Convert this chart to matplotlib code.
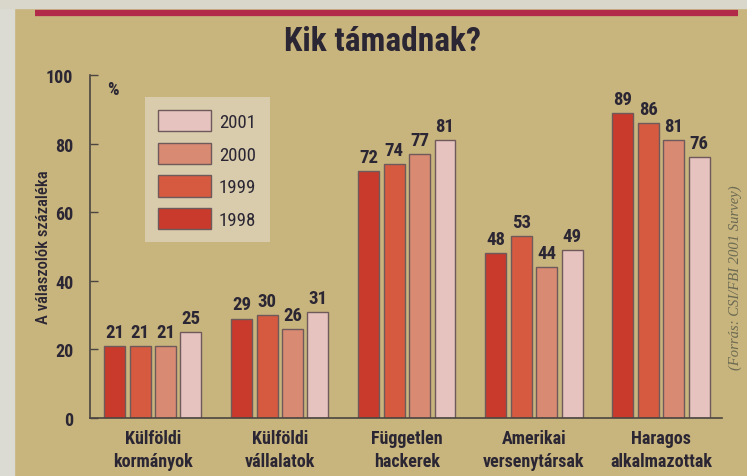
import matplotlib
matplotlib.use("Agg")
import matplotlib.pyplot as plt
from matplotlib.patches import Rectangle
from matplotlib.lines import Line2D
from matplotlib import font_manager
import numpy as np

categories = ["Külföldi\nkormányok", "Külföldi\nvállalatok", "Független\nhackerek",
              "Amerikai\nversenytársak", "Haragos\nalkalmazottak"]
years = ["1998", "1999", "2000", "2001"]
values = {
    "1998": [21, 29, 72, 48, 89],
    "1999": [21, 30, 74, 53, 86],
    "2000": [21, 26, 77, 44, 81],
    "2001": [25, 31, 81, 49, 76],
}
colors = {"1998": "#c93a2c", "1999": "#d65a3f", "2000": "#d98a72", "2001": "#e6c3bf"}
yticks = [0, 20, 40, 60, 80, 100]

names = {f.name for f in font_manager.fontManager.ttflist}
NARROW = "DejaVu Sans"
for cand in ["Roboto Condensed", "Archivo Narrow", "PT Sans Narrow", "Fira Sans Condensed",
             "Fira Sans Extra Condensed", "Barlow Condensed", "Open Sans Condensed",
             "IBM Plex Sans Condensed", "Encode Sans Condensed", "Liberation Sans Narrow",
             "Pathway Gothic One", "Oswald"]:
    if cand in names:
        NARROW = cand
        break

W, H = 747, 477
BG = "#c8b47d"
TXT = "#2b2633"
fp = dict(family=NARROW, weight="bold")

fig = plt.figure(figsize=(W / 100, H / 100), dpi=100, facecolor=BG)

# photo borders
fig.add_artist(Rectangle((0, 0), 14 / W, 1, transform=fig.transFigure, color="#dcdbd3", zorder=0))
fig.add_artist(Rectangle((0, 1 - 9 / H), 1, 9 / H, transform=fig.transFigure, color="#d9d6cc", zorder=0))
fig.add_artist(Line2D([35 / W, 738 / W], [1 - 14 / H, 1 - 14 / H], transform=fig.transFigure,
                      color="#b12a4a", lw=4.5, solid_capstyle="butt"))

fig.text(382 / W, 1 - 42 / H, "Kik támadnak?", ha="center", va="center", fontsize=24,
         color=TXT, **fp)

ax = fig.add_axes([90 / W, (H - 419) / H, (722 - 90) / W, (419 - 76) / H])
ax.set_facecolor("none")

pitch = 0.2
bw = 0.165
x = np.arange(len(categories))
handles = {}
for i, yr in enumerate(years):
    xs = x + (i - 1.5) * pitch
    bars = ax.bar(xs, values[yr], width=bw, color=colors[yr], edgecolor="#6e5a5a",
                  linewidth=1.0, zorder=2)
    handles[yr] = bars
    for xi, v in zip(xs, values[yr]):
        ax.text(xi, v + 1.5, str(v), ha="center", va="bottom", fontsize=13.5, color=TXT, **fp)

ax.set_xlim(-0.494, 4.48)
ax.set_ylim(0, 100)
ax.set_yticks(yticks)
ax.set_yticklabels([str(t) for t in yticks])
for s in ["top", "right"]:
    ax.spines[s].set_visible(False)
for s in ["left", "bottom"]:
    ax.spines[s].set_color("#4a4540")
    ax.spines[s].set_linewidth(1.2)
ax.tick_params(axis="y", direction="in", length=6, width=1, color="#4a4540", pad=12,
               labelsize=13, labelcolor=TXT)
ax.set_xticks(x)
ax.set_xticklabels(categories)
ax.tick_params(axis="x", length=0, pad=8, labelsize=13, labelcolor=TXT)
for lbl in ax.get_xticklabels() + ax.get_yticklabels():
    lbl.set_fontfamily(NARROW)
    lbl.set_fontweight("bold")
    lbl.set_linespacing(1.35)

ax.text(0.027, 0.985, "%", transform=ax.transAxes, ha="left", va="top", fontsize=13,
        color=TXT, **fp)

fig.text(44 / W, 1 - 247 / H, "A válaszolók százaléka", rotation=90, ha="center", va="center",
         fontsize=12, color=TXT, family=NARROW, weight="medium")

fig.text(735 / W, 1 - 278 / H, "(Forrás: CSI/FBI 2001 Survey)", rotation=90, ha="center",
         va="center", fontsize=10.5, color="#6b6a52", style="italic", family="Liberation Serif")

leg = ax.legend([handles[y] for y in years[::-1]], years[::-1], loc="upper left",
                bbox_to_anchor=((145 - 90) / (722 - 90), (419 - 98) / (419 - 76)),
                borderaxespad=0, frameon=True, fancybox=False, facecolor="#d8ccac",
                edgecolor="none", framealpha=1, handlelength=2.8, handleheight=1.35,
                labelspacing=0.62, borderpad=0.7, handletextpad=0.45,
                prop=dict(family=NARROW, size=13.5))
for t in leg.get_texts():
    t.set_color(TXT)

fig.savefig("out.png", dpi=100, facecolor=BG)
